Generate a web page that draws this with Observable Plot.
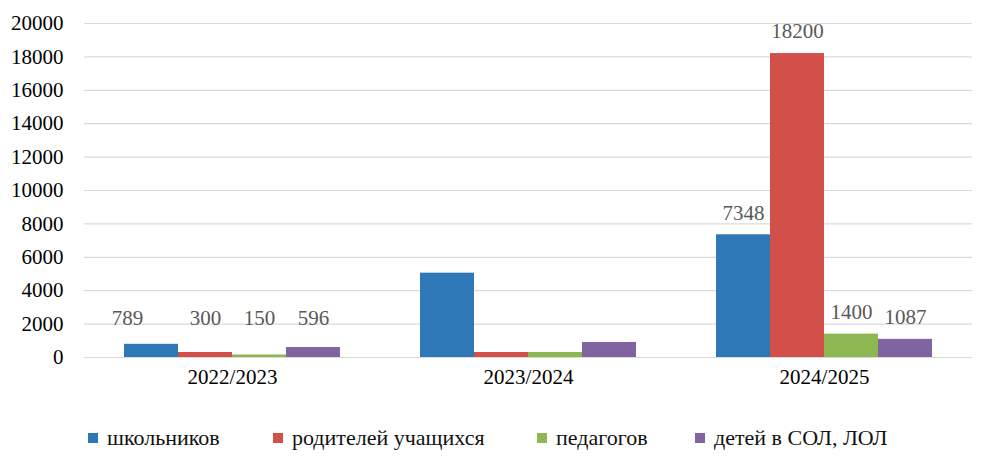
<!DOCTYPE html>
<html>
<head>
<meta charset="utf-8">
<script src="https://cdn.jsdelivr.net/npm/d3@7"></script>
<script src="https://cdn.jsdelivr.net/npm/@observablehq/plot@0.6"></script>
<style>
  body { margin: 0; background: #fff; font-family: "Liberation Serif", "DejaVu Serif", serif; }
  #chart svg, #chart svg text { font-family: "Liberation Serif", "DejaVu Serif", serif !important; }
  #legend { display: flex; justify-content: flex-start; padding-left: 88px; margin-top: 26px; font-size: 22px; line-height: 24px; color: #111; }
  #legend .item { display: flex; align-items: center; flex: none; }
  #legend .sw { width: 10px; height: 10px; margin-right: 9px; flex: none; }
</style>
</head>
<body>
<div id="chart"></div>
<div id="legend"></div>
<script>
const years = ["2022/2023", "2023/2024", "2024/2025"];
const series = ["школьников", "родителей учащихся", "педагогов", "детей в СОЛ, ЛОЛ"];
const schoolchildren = [789, 5050, 7348];
const parents = [300, 300, 18200];
const teachers = [150, 300, 1400];
const campChildren = [596, 900, 1087];
const showLabel = [true, false, true];
const yTicks = [0, 2000, 4000, 6000, 8000, 10000, 12000, 14000, 16000, 18000, 20000];
const colors = ["#2E78B7", "#D24F4A", "#8CB751", "#8064A2"];

const seriesValues = [schoolchildren, parents, teachers, campChildren];
const data = [];
years.forEach((year, i) => {
  series.forEach((s, j) => {
    data.push({year, series: s, value: seriesValues[j][i], label: showLabel[i] ? String(seriesValues[j][i]) : ""});
  });
});
// the first label in the reference sits a little left of its bar
const isShifted = d => d.year === years[0] && d.series === series[0];

const labelOpts = {
  fx: "year", x: "series",
  y: d => Math.max(d.value, 1050),
  text: "label", dy: -22, fill: "#595959", fontSize: 21
};

const chart = Plot.plot({
  width: 987,
  height: 400,
  marginTop: 23,
  marginBottom: 43,
  marginLeft: 84,
  marginRight: 15,
  style: { fontFamily: "Liberation Serif, DejaVu Serif, serif", fontSize: "21px", background: "#fff", color: "#000" },
  fx: { domain: years, padding: 0, label: null },
  x: { domain: series, paddingInner: 0, paddingOuter: 0.74, axis: null },
  y: { domain: [0, 20000], label: null },
  color: { domain: series, range: colors },
  marks: [
    Plot.ruleY(yTicks, { stroke: "#d9d9d9", strokeWidth: 1.2 }),
    Plot.barY(data, { fx: "year", x: "series", y: "value", fill: "series" }),
    Plot.text(data.filter(d => !isShifted(d)), labelOpts),
    Plot.text(data.filter(isShifted), { ...labelOpts, dx: -24 }),
    Plot.axisY({ ticks: yTicks, tickSize: 0, tickPadding: 21, tickFormat: d => String(d), fontSize: 21, label: null }),
    Plot.axisFx({ anchor: "bottom", tickSize: 0, tickPadding: 12, fontSize: 21, label: null })
  ]
});
document.getElementById("chart").appendChild(chart);

const legendWidths = ["185px", "264px", "158px", "auto"];
const legend = document.getElementById("legend");
series.forEach((s, j) => {
  const item = document.createElement("div");
  item.className = "item";
  item.style.width = legendWidths[j];
  const sw = document.createElement("span");
  sw.className = "sw";
  sw.style.background = colors[j];
  const t = document.createElement("span");
  t.textContent = s;
  item.appendChild(sw);
  item.appendChild(t);
  legend.appendChild(item);
});
</script>
</body>
</html>
